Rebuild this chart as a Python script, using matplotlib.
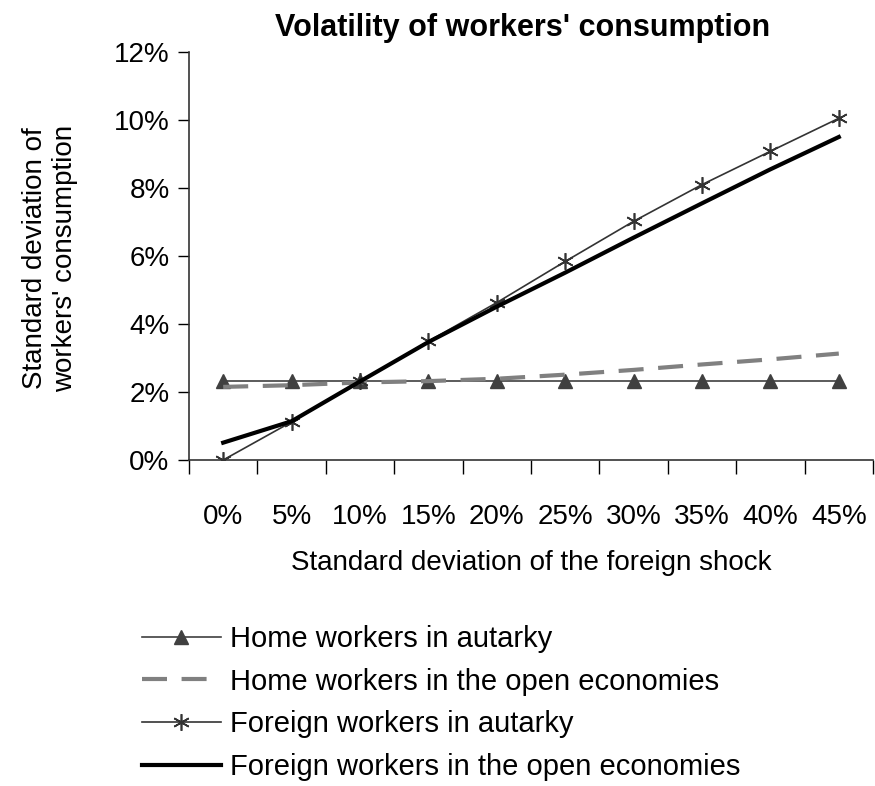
import matplotlib.pyplot as plt
from matplotlib.ticker import FixedLocator, PercentFormatter

plt.rcParams['font.family'] = ['Liberation Sans', 'DejaVu Sans']

# categories (std of the foreign shock)
shock_labels = ['0%', '5%', '10%', '15%', '20%', '25%', '30%', '35%', '40%', '45%']

# std of workers' consumption, in percent
home_autarky = [2.31, 2.31, 2.31, 2.31, 2.31, 2.31, 2.31, 2.31, 2.31, 2.31]
home_open = [2.15, 2.20, 2.28, 2.32, 2.39, 2.51, 2.65, 2.81, 2.96, 3.13]
foreign_autarky = [0.0, 1.12, 2.31, 3.49, 4.63, 5.84, 7.02, 8.10, 9.08, 10.05]
foreign_open = [0.51, 1.14, 2.31, 3.47, 4.51, 5.51, 6.54, 7.55, 8.55, 9.50]

fs = 20
fig = plt.figure(figsize=(8.75, 7.86), dpi=100)
ax = fig.add_axes([189 / 875, 1 - 460 / 786, 684 / 875, 408 / 786])

x = list(range(len(shock_labels)))
ax.plot(x, home_autarky, color='#404040', lw=1.2, marker='^', ms=10,
        mfc='#404040', mec='#404040', label='Home workers in autarky')
ax.plot(x, home_open, color='#808080', lw=3, dashes=(6, 3.5),
        label='Home workers in the open economies')
ax.plot(x, foreign_autarky, color='#333333', lw=1.2, marker=(6, 2, 0), ms=12,
        mew=1.2, mec='#333333', label='Foreign workers in autarky')
ax.plot(x, foreign_open, color='black', lw=3,
        label='Foreign workers in the open economies')

ax.set_xlim(-0.5, 9.5)
ax.set_ylim(0, 12)
ax.set_xticks(x)
ax.set_xticklabels(shock_labels, fontsize=fs)
ax.xaxis.set_minor_locator(FixedLocator([i - 0.5 for i in range(11)]))
ax.tick_params(axis='x', which='major', length=0, pad=32)
ax.tick_params(axis='x', which='minor', length=10, width=1, direction='out')
ax.set_yticks(range(0, 13, 2))
ax.yaxis.set_major_formatter(PercentFormatter(decimals=0))
ax.tick_params(axis='y', labelsize=fs, length=8, width=1, direction='out', pad=6)

for s in ['top', 'right']:
    ax.spines[s].set_visible(False)
for s in ['left', 'bottom']:
    ax.spines[s].set_color('#333333')
    ax.spines[s].set_linewidth(1.2)

ax.set_xlabel('Standard deviation of the foreign shock', fontsize=fs, labelpad=14)
fig.text(50 / 875, 1 - 258 / 786, "Standard deviation of\nworkers' consumption",
         rotation=90, ha='center', va='center', fontsize=fs, linespacing=1.2)
fig.text(523 / 875, 1 - 28 / 786, "Volatility of workers' consumption",
         ha='center', va='center', fontsize=22, fontweight='bold')

fig.legend(loc='upper left', bbox_to_anchor=(142 / 875, 1 - 625 / 786),
           frameon=False, fontsize=21, handlelength=2.7, handletextpad=0.3,
           labelspacing=0.5, borderpad=0, borderaxespad=0)

fig.savefig('out.png', dpi=100)
